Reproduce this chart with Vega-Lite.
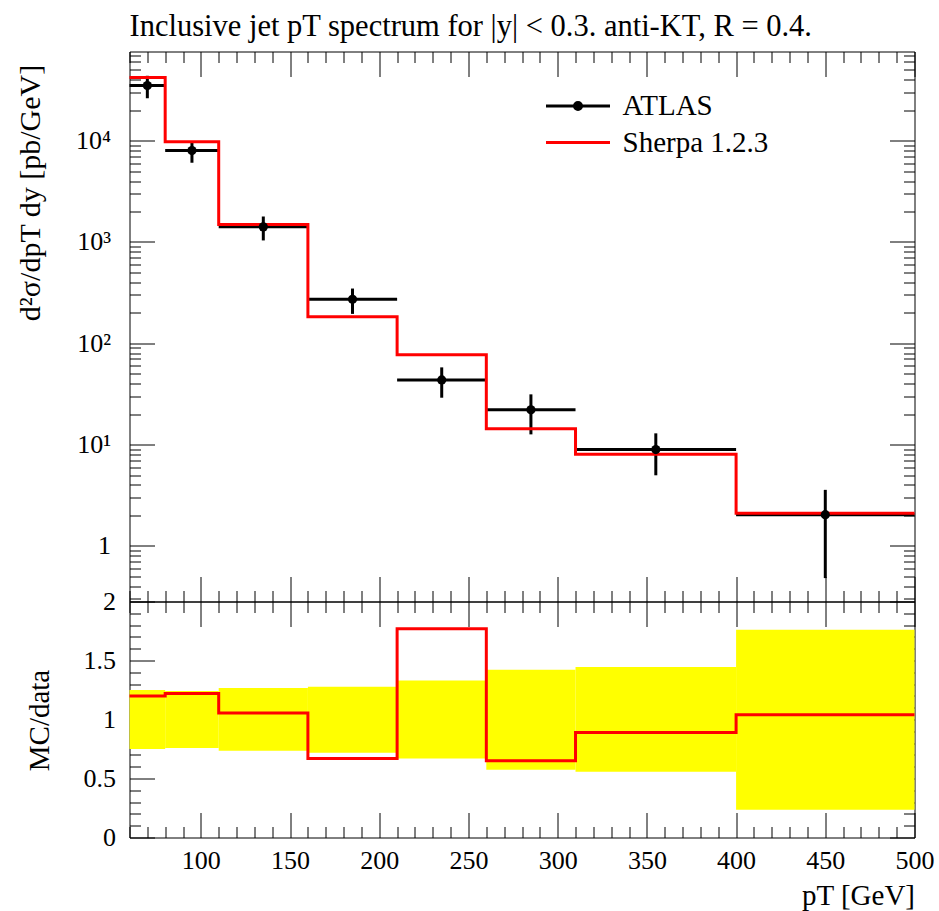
{
  "$schema": "https://vega.github.io/schema/vega-lite/v6.json",
  "padding": {"left": 14.5, "top": 11.5, "right": 5, "bottom": 5},
  "spacing": 0,
  "bounds": "flush",
  "title": {
    "text": "Inclusive jet pT spectrum for |y| < 0.3. anti-KT, R = 0.4.",
    "anchor": "start",
    "frame": "group",
    "font": "Liberation Serif",
    "fontSize": 30.5,
    "fontWeight": "normal",
    "color": "#000000",
    "baseline": "alphabetic",
    "offset": -25
  },
  "datasets": {
    "atlas": [
      {"series": "ATLAS", "pt_lo": 60, "pt_hi": 80, "pt": 70, "xsec": 35000, "xsec_lo": 26250, "xsec_hi": 43750},
      {"series": "ATLAS", "pt_lo": 80, "pt_hi": 110, "pt": 95, "xsec": 8000, "xsec_lo": 6060, "xsec_hi": 9930},
      {"series": "ATLAS", "pt_lo": 110, "pt_hi": 160, "pt": 135, "xsec": 1410, "xsec_lo": 1036, "xsec_hi": 1785},
      {"series": "ATLAS", "pt_lo": 160, "pt_hi": 210, "pt": 185, "xsec": 272, "xsec_lo": 195, "xsec_hi": 347},
      {"series": "ATLAS", "pt_lo": 210, "pt_hi": 260, "pt": 235, "xsec": 43.4, "xsec_lo": 29.0, "xsec_hi": 57.8},
      {"series": "ATLAS", "pt_lo": 260, "pt_hi": 310, "pt": 285, "xsec": 22.0, "xsec_lo": 12.6, "xsec_hi": 31.3},
      {"series": "ATLAS", "pt_lo": 310, "pt_hi": 400, "pt": 355, "xsec": 8.93, "xsec_lo": 4.97, "xsec_hi": 12.9},
      {"series": "ATLAS", "pt_lo": 400, "pt_hi": 500, "pt": 450, "xsec": 2.03, "xsec_lo": 0.48, "xsec_hi": 3.57}
    ],
    "sherpa": [
      {"series": "Sherpa 1.2.3", "pt_edge": 60, "xsec": 42000},
      {"series": "Sherpa 1.2.3", "pt_edge": 80, "xsec": 9750},
      {"series": "Sherpa 1.2.3", "pt_edge": 110, "xsec": 1490},
      {"series": "Sherpa 1.2.3", "pt_edge": 160, "xsec": 183},
      {"series": "Sherpa 1.2.3", "pt_edge": 210, "xsec": 77},
      {"series": "Sherpa 1.2.3", "pt_edge": 260, "xsec": 14.3},
      {"series": "Sherpa 1.2.3", "pt_edge": 310, "xsec": 8.0},
      {"series": "Sherpa 1.2.3", "pt_edge": 400, "xsec": 2.1},
      {"series": "Sherpa 1.2.3", "pt_edge": 500, "xsec": 2.1}
    ],
    "ratio": [
      {"pt_edge": 60, "ratio": 1.2},
      {"pt_edge": 80, "ratio": 1.22},
      {"pt_edge": 110, "ratio": 1.055},
      {"pt_edge": 160, "ratio": 0.67},
      {"pt_edge": 210, "ratio": 1.77},
      {"pt_edge": 260, "ratio": 0.65},
      {"pt_edge": 310, "ratio": 0.89},
      {"pt_edge": 400, "ratio": 1.04},
      {"pt_edge": 500, "ratio": 1.04}
    ],
    "band": [
      {"pt_lo": 60, "pt_hi": 80, "band_lo": 0.749, "band_hi": 1.249},
      {"pt_lo": 80, "pt_hi": 110, "band_lo": 0.758, "band_hi": 1.241},
      {"pt_lo": 110, "pt_hi": 160, "band_lo": 0.735, "band_hi": 1.266},
      {"pt_lo": 160, "pt_hi": 210, "band_lo": 0.718, "band_hi": 1.277},
      {"pt_lo": 210, "pt_hi": 260, "band_lo": 0.669, "band_hi": 1.331},
      {"pt_lo": 260, "pt_hi": 310, "band_lo": 0.574, "band_hi": 1.421},
      {"pt_lo": 310, "pt_hi": 400, "band_lo": 0.557, "band_hi": 1.444},
      {"pt_lo": 400, "pt_hi": 500, "band_lo": 0.235, "band_hi": 1.76}
    ]
  },
  "vconcat": [
    {
      "width": 785,
      "height": 550,
      "resolve": {"axis": {"x": "independent", "y": "independent"}},
      "layer": [
        {
          "data": {"name": "atlas"},
          "mark": {"type": "rule", "strokeWidth": 3},
          "encoding": {
            "x": {
              "field": "pt_lo", "type": "quantitative",
              "scale": {"domain": [60, 500], "nice": false, "zero": false},
              "axis": {
                "orient": "bottom", "title": null, "labels": false,
                "values": [60,70,80,90,100,110,120,130,140,150,160,170,180,190,200,210,220,230,240,250,260,270,280,290,300,310,320,330,340,350,360,370,380,390,400,410,420,430,440,450,460,470,480,490,500],
                "tickSize": {"condition": {"test": "datum.value % 50 === 0", "value": -25}, "value": -11}
              }
            },
            "x2": {"field": "pt_hi"},
            "y": {
              "field": "xsec", "type": "quantitative",
              "scale": {"type": "log", "domain": [0.282, 76000], "nice": false},
              "axis": {
                "orient": "left",
                "title": "d²σ/dpT dy [pb/GeV]",
                "titleFontSize": 30,
                "titleAngle": -90, "titleAlign": "center", "titleBaseline": "alphabetic",
                "titleX": -90, "titleY": 141,
                "values": [0.3,0.4,0.5,0.6,0.7,0.8,0.9,1,2,3,4,5,6,7,8,9,10,20,30,40,50,60,70,80,90,100,200,300,400,500,600,700,800,900,1000,2000,3000,4000,5000,6000,7000,8000,9000,10000,20000,30000,40000,50000,60000,70000],
                "tickSize": {"condition": {"test": "datum.value === 1 || datum.value === 10 || datum.value === 100 || datum.value === 1000 || datum.value === 10000", "value": -25}, "value": -11},
                "labelExpr": "datum.value === 1 ? '1' : datum.value === 10 ? '10¹' : datum.value === 100 ? '10²' : datum.value === 1000 ? '10³' : datum.value === 10000 ? '10⁴' : ''",
                "labelBaseline": "middle",
                "labelPadding": 44
              }
            },
            "stroke": {
              "field": "series", "type": "nominal",
              "scale": {"range": ["#000000"]},
              "legend": {
                "orient": "none", "legendX": 415, "legendY": 21, "title": null, "padding": 0,
                "symbolType": "M-1,0L1,0M0.11,0A0.11,0.11,0,1,1,-0.11,0A0.11,0.11,0,1,1,0.11,0",
                "symbolSize": 4096, "symbolStrokeWidth": 3, "symbolFillColor": "#000000", "symbolStrokeColor": "#000000",
                "labelFont": "Liberation Serif", "labelFontSize": 29, "labelColor": "#000000", "labelOffset": 11, "labelLimit": 0
              }
            }
          }
        },
        {
          "data": {"name": "atlas"},
          "mark": {"type": "rule", "strokeWidth": 3, "color": "#000000"},
          "encoding": {
            "x": {
              "field": "pt", "type": "quantitative",
              "axis": {
                "orient": "top", "title": null, "labels": false,
                "values": [60,70,80,90,100,110,120,130,140,150,160,170,180,190,200,210,220,230,240,250,260,270,280,290,300,310,320,330,340,350,360,370,380,390,400,410,420,430,440,450,460,470,480,490,500],
                "tickSize": {"condition": {"test": "datum.value % 50 === 0", "value": -25}, "value": -11}
              }
            },
            "y": {
              "field": "xsec_lo", "type": "quantitative",
              "axis": {
                "orient": "right", "title": null, "labels": false,
                "values": [0.3,0.4,0.5,0.6,0.7,0.8,0.9,1,2,3,4,5,6,7,8,9,10,20,30,40,50,60,70,80,90,100,200,300,400,500,600,700,800,900,1000,2000,3000,4000,5000,6000,7000,8000,9000,10000,20000,30000,40000,50000,60000,70000],
                "tickSize": {"condition": {"test": "datum.value === 1 || datum.value === 10 || datum.value === 100 || datum.value === 1000 || datum.value === 10000", "value": -25}, "value": -11}
              }
            },
            "y2": {"field": "xsec_hi"}
          }
        },
        {
          "data": {"name": "sherpa"},
          "mark": {"type": "line", "interpolate": "step-after", "strokeWidth": 3},
          "encoding": {
            "x": {"field": "pt_edge", "type": "quantitative", "axis": null},
            "y": {"field": "xsec", "type": "quantitative", "axis": null},
            "color": {
              "field": "series", "type": "nominal",
              "scale": {"range": ["#ff0000"]},
              "legend": {
                "orient": "none", "legendX": 415, "legendY": 57.5, "title": null, "padding": 0,
                "symbolType": "stroke", "symbolSize": 4096, "symbolStrokeWidth": 3,
                "labelFont": "Liberation Serif", "labelFontSize": 29, "labelColor": "#000000", "labelOffset": 11, "labelLimit": 0
              }
            }
          }
        },
        {
          "data": {"name": "atlas"},
          "mark": {"type": "point", "filled": true, "size": 85, "color": "#000000", "opacity": 1},
          "encoding": {
            "x": {"field": "pt", "type": "quantitative", "axis": null},
            "y": {"field": "xsec", "type": "quantitative", "axis": null}
          }
        }
      ]
    },
    {
      "width": 785,
      "height": 236,
      "resolve": {"axis": {"x": "independent", "y": "independent"}},
      "layer": [
        {
          "data": {"name": "band"},
          "mark": {"type": "rect", "color": "#ffff00"},
          "encoding": {
            "x": {
              "field": "pt_lo", "type": "quantitative",
              "scale": {"domain": [60, 500], "nice": false, "zero": false},
              "axis": {
                "orient": "bottom",
                "title": "pT [GeV]",
                "titleAnchor": "end", "titleAlign": "right", "titleBaseline": "alphabetic",
                "titleX": 785, "titleY": 66.5,
                "values": [60,70,80,90,100,110,120,130,140,150,160,170,180,190,200,210,220,230,240,250,260,270,280,290,300,310,320,330,340,350,360,370,380,390,400,410,420,430,440,450,460,470,480,490,500],
                "tickSize": {"condition": {"test": "datum.value % 50 === 0", "value": -25}, "value": -11},
                "labelExpr": "datum.value % 50 === 0 ? format(datum.value, 'd') : ''",
                "labelBaseline": "alphabetic",
                "labelPadding": 56
              }
            },
            "x2": {"field": "pt_hi"},
            "y": {
              "field": "band_lo", "type": "quantitative",
              "scale": {"domain": [0, 2], "nice": false, "zero": false},
              "axis": {
                "orient": "left",
                "title": "MC/data",
                "titleAngle": -90, "titleAlign": "center", "titleBaseline": "alphabetic",
                "titleX": -81, "titleY": 118.5,
                "values": [0,0.1,0.2,0.3,0.4,0.5,0.6,0.7,0.8,0.9,1,1.1,1.2,1.3,1.4,1.5,1.6,1.7,1.8,1.9,2],
                "tickSize": {"condition": {"test": "abs(datum.value * 2 - round(datum.value * 2)) < 0.001", "value": -25}, "value": -11},
                "labelExpr": "abs(datum.value * 2 - round(datum.value * 2)) < 0.001 ? format(datum.value, '~g') : ''",
                "labelBaseline": "middle",
                "labelPadding": 39
              }
            },
            "y2": {"field": "band_hi"}
          }
        },
        {
          "mark": {"type": "rule", "color": "#000000", "strokeWidth": 1},
          "encoding": {
            "y": {"datum": 1, "type": "quantitative", "axis": null}
          }
        },
        {
          "data": {"name": "ratio"},
          "mark": {"type": "line", "interpolate": "step-after", "strokeWidth": 3, "color": "#ff0000"},
          "encoding": {
            "x": {
              "field": "pt_edge", "type": "quantitative",
              "axis": {
                "orient": "top", "title": null, "labels": false,
                "values": [60,70,80,90,100,110,120,130,140,150,160,170,180,190,200,210,220,230,240,250,260,270,280,290,300,310,320,330,340,350,360,370,380,390,400,410,420,430,440,450,460,470,480,490,500],
                "tickSize": {"condition": {"test": "datum.value % 50 === 0", "value": -25}, "value": -11}
              }
            },
            "y": {
              "field": "ratio", "type": "quantitative",
              "axis": {
                "orient": "right", "title": null, "labels": false,
                "values": [0,0.1,0.2,0.3,0.4,0.5,0.6,0.7,0.8,0.9,1,1.1,1.2,1.3,1.4,1.5,1.6,1.7,1.8,1.9,2],
                "tickSize": {"condition": {"test": "abs(datum.value * 2 - round(datum.value * 2)) < 0.001", "value": -25}, "value": -11}
              }
            }
          }
        }
      ]
    }
  ],
  "config": {
    "font": "Liberation Serif",
    "view": {"stroke": "#000000", "strokeWidth": 1},
    "axis": {
      "domain": false, "grid": false,
      "tickColor": "#000000", "tickWidth": 1,
      "labelFont": "Liberation Serif", "labelFontSize": 26, "labelColor": "#000000",
      "labelFlush": false, "labelOverlap": false, "labelBound": false,
      "titleFont": "Liberation Serif", "titleFontSize": 29, "titleFontWeight": "normal", "titleColor": "#000000"
    }
  }
}
